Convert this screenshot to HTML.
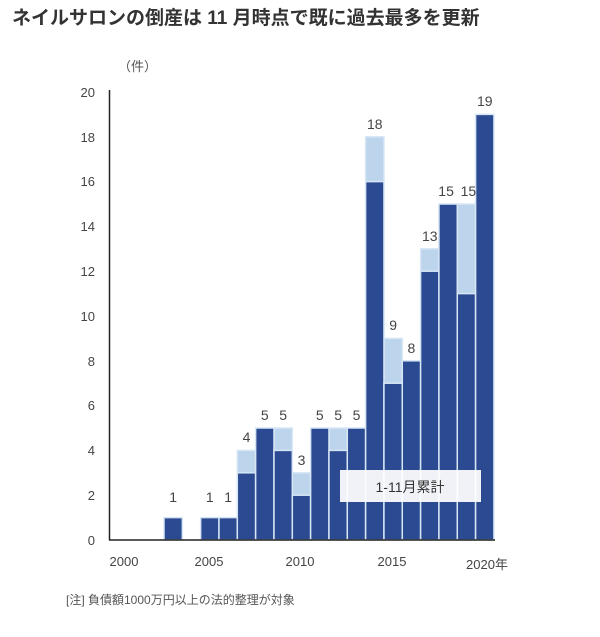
<!DOCTYPE html>
<html><head><meta charset="utf-8"><style>
body{margin:0;background:#fff;width:600px;height:632px;overflow:hidden}
svg text{font-family:"Liberation Sans","Noto Sans CJK JP",sans-serif}
</style></head><body>
<svg width="600" height="632" xmlns="http://www.w3.org/2000/svg">
<text x="12" y="24" font-size="19" font-weight="bold" fill="#333">ネイルサロンの倒産は 11 月時点で既に過去最多を更新</text>
<text x="118" y="71" font-size="13" fill="#555">（件）</text>
<g font-size="13" fill="#444" text-anchor="end">
<text x="95" y="97">20</text><text x="95" y="142">18</text><text x="95" y="186">16</text><text x="95" y="231">14</text><text x="95" y="276">12</text><text x="95" y="321">10</text><text x="95" y="366">8</text><text x="95" y="410">6</text><text x="95" y="455">4</text><text x="95" y="500">2</text><text x="95" y="545">0</text>
</g>
<g fill="#bcd4ec" stroke="#d6e6f5" stroke-width="1.5">
<rect x="237.31" y="450.4" width="18.33" height="89.6"/>
<rect x="273.97" y="428" width="18.33" height="112"/>
<rect x="292.3" y="472.8" width="18.33" height="67.2"/>
<rect x="328.96" y="428" width="18.33" height="112"/>
<rect x="365.62" y="136.8" width="18.33" height="403.2"/>
<rect x="383.95" y="338.4" width="18.33" height="201.6"/>
<rect x="420.61" y="248.8" width="18.33" height="291.2"/>
<rect x="457.27" y="204" width="18.33" height="336"/>
</g>
<g fill="#2c4a92" stroke="#d6e6f5" stroke-width="1.5">
<rect x="164" y="517.6" width="18.33" height="22.4"/>
<rect x="200.65" y="517.6" width="18.33" height="22.4"/>
<rect x="218.98" y="517.6" width="18.33" height="22.4"/>
<rect x="237.31" y="472.8" width="18.33" height="67.2"/>
<rect x="255.64" y="428" width="18.33" height="112"/>
<rect x="273.97" y="450.4" width="18.33" height="89.6"/>
<rect x="292.3" y="495.2" width="18.33" height="44.8"/>
<rect x="310.63" y="428" width="18.33" height="112"/>
<rect x="328.96" y="450.4" width="18.33" height="89.6"/>
<rect x="347.29" y="428" width="18.33" height="112"/>
<rect x="365.62" y="181.6" width="18.33" height="358.4"/>
<rect x="383.95" y="383.2" width="18.33" height="156.8"/>
<rect x="402.28" y="360.8" width="18.33" height="179.2"/>
<rect x="420.61" y="271.2" width="18.33" height="268.8"/>
<rect x="438.94" y="204" width="18.33" height="336"/>
<rect x="457.27" y="293.6" width="18.33" height="246.4"/>
<rect x="475.6" y="114.4" width="18.33" height="425.6"/>
</g>
<g font-size="14" fill="#444" text-anchor="middle">
<text x="173.2" y="502">1</text>
<text x="209.8" y="502">1</text>
<text x="228.1" y="502">1</text>
<text x="246.5" y="442">4</text>
<text x="264.8" y="420">5</text>
<text x="283.1" y="420">5</text>
<text x="301.5" y="465">3</text>
<text x="319.8" y="420">5</text>
<text x="338.1" y="420">5</text>
<text x="356.5" y="420">5</text>
<text x="374.8" y="129">18</text>
<text x="393.1" y="330">9</text>
<text x="411.4" y="353">8</text>
<text x="429.8" y="241">13</text>
<text x="446.1" y="196">15</text>
<text x="468.4" y="196">15</text>
<text x="484.8" y="106">19</text>
</g>
<line x1="109.5" y1="90" x2="109.5" y2="540" stroke="#222" stroke-width="1.5"/>
<line x1="109" y1="540" x2="495" y2="540" stroke="#222" stroke-width="1.5"/>
<rect x="340" y="470" width="141" height="32" fill="#fff" fill-opacity="0.93"/>
<text x="410" y="492" font-size="14" fill="#333" text-anchor="middle">1-11月累計</text>
<g font-size="13" fill="#444" text-anchor="middle">
<text x="124" y="566">2000</text><text x="209" y="566">2005</text><text x="300" y="566">2010</text><text x="392" y="566">2015</text><text x="487" y="569">2020年</text>
</g>
<text x="66" y="604" font-size="12" fill="#555">[注] 負債額1000万円以上の法的整理が対象</text>
</svg>
</body></html>
